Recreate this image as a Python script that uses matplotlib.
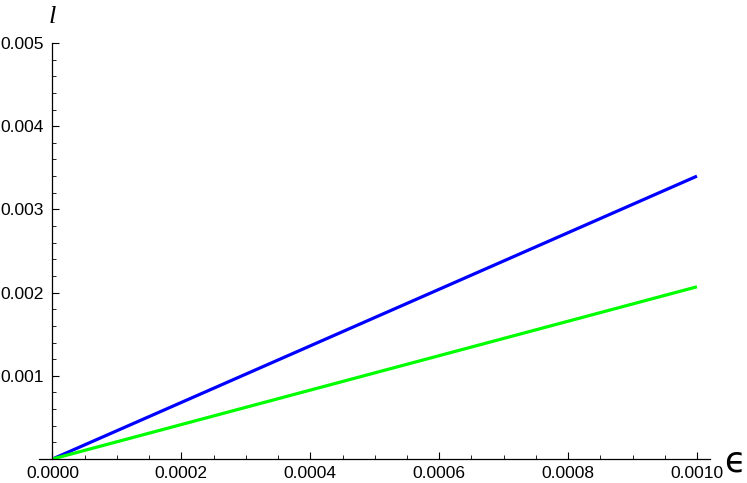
import numpy as np
import matplotlib.pyplot as plt
from matplotlib.ticker import MultipleLocator, FixedLocator

plt.rcParams['font.family'] = ['Liberation Sans', 'DejaVu Sans']

# data
eps = [0.0, 0.001]
l_blue = [0.0, 0.00340]
l_green = [0.0, 0.00207]

xticks = [0.0, 0.0002, 0.0004, 0.0006, 0.0008, 0.0010]
xlabels = ['0.0000', '0.0002', '0.0004', '0.0006', '0.0008', '0.0010']
yticks = [0.001, 0.002, 0.003, 0.004, 0.005]
ylabels = ['0.001', '0.002', '0.003', '0.004', '0.005']

W, H = 747, 483
fig = plt.figure(figsize=(W / 100, H / 100), dpi=100)
# axes box in pixels: x 39..710, y 43..459 (from top)
ax = fig.add_axes([39 / W, (H - 459) / H, 671 / W, 416 / H])

ax.plot(eps, l_blue, color='#0000ff', lw=2.3, solid_capstyle='butt')
ax.plot(eps, l_green, color='#00ff00', lw=2.3, solid_capstyle='butt')

ax.set_xlim(-0.0000209, 0.0010202)
ax.set_ylim(0, 0.005)

ax.spines['top'].set_visible(False)
ax.spines['right'].set_visible(False)
ax.spines['left'].set_position(('data', 0))
ax.spines['bottom'].set_position(('data', 0))
for s in ['left', 'bottom']:
    ax.spines[s].set_linewidth(0.9)
    ax.spines[s].set_color('black')

ax.xaxis.set_major_locator(FixedLocator(xticks))
ax.set_xticklabels(xlabels)
ax.xaxis.set_minor_locator(MultipleLocator(0.00005))
ax.yaxis.set_major_locator(FixedLocator(yticks))
ax.set_yticklabels(ylabels)
ax.yaxis.set_minor_locator(MultipleLocator(0.0002))

ax.tick_params(which='major', direction='in', length=4.8, width=0.8, labelsize=12.5)
ax.tick_params(axis='x', which='major', pad=5)
ax.tick_params(axis='y', which='major', pad=6.5)
ax.tick_params(which='minor', direction='in', length=3, width=0.6)

# axis labels
fig.text(52.5 / W, (H - 23) / H, 'l', style='italic', fontsize=19, ha='center',
         va='baseline', family=['Liberation Serif'])
fig.text(724 / W, (H - 471) / H, 'ϵ', fontsize=25, ha='left', va='baseline',
         family=['DejaVu Sans'])

fig.savefig('out.png', dpi=100)
